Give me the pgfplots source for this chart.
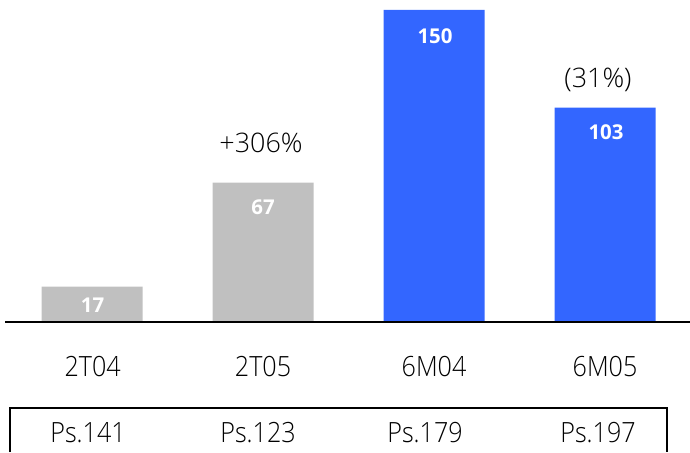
\documentclass[border=0pt]{standalone}
\usepackage{pgfplots}
\pgfplotsset{compat=1.18}
\usepackage{fontspec}
\setmainfont{Open Sans}
\newfontfamily\narrowfont{Open Sans Light}[FakeStretch=0.9]
\newfontfamily\annfont{Open Sans Light}
\definecolor{barblue}{HTML}{3366FF}
\definecolor{bargray}{HTML}{C0C0C0}
\tikzset{lab/.style={anchor=base, inner sep=0pt, font=\narrowfont\fontsize{28}{32}\selectfont, text=black},
  val/.style={anchor=base, inner sep=0pt, text=white, font=\bfseries\fontsize{20.5}{24}\selectfont}}
\begin{document}
\begin{tikzpicture}
\begin{axis}[
  scale only axis, width=690bp, height=452bp,
  hide axis, clip=false,
  xmin=0, xmax=690, ymin=-62.5, ymax=154.8,
  ybar, bar width=101, bar shift=0pt,
]
\addplot[fill=bargray, draw=none] coordinates {(92,17) (263,67)};
\addplot[fill=barblue, draw=none] coordinates {(434,150) (605,103)};
% value labels
\node[val] at (axis cs:92.5,4.8) {17};
\node[val] at (axis cs:263,51.9) {67};
\node[val] at (axis cs:435,134.1) {150};
\node[val] at (axis cs:606,87.5) {103};
% annotations
\node[lab, font=\annfont\fontsize{27}{30}\selectfont] at (axis cs:261,81.25) {+306\%};
\node[lab, font=\annfont\fontsize{27}{30}\selectfont] at (axis cs:598,112.5) {(31\%)};
% baseline
\draw[line width=1.5pt] (axis cs:5,0) -- (axis cs:690,0);
% categories
\node[lab] at (axis cs:92.7,-26.4) {2T04};
\node[lab] at (axis cs:263,-26.4) {2T05};
\node[lab] at (axis cs:434,-26.4) {6M04};
\node[lab] at (axis cs:605,-26.4) {6M05};
% table box
\draw[line width=1.2pt] (axis cs:10,-62.5) -- (axis cs:10,-41.35) -- (axis cs:667,-41.35) -- (axis cs:667,-62.5);
\node[lab] at (axis cs:88,-57.7) {Ps.141};
\node[lab] at (axis cs:258,-57.7) {Ps.123};
\node[lab] at (axis cs:425,-57.7) {Ps.179};
\node[lab] at (axis cs:598,-57.7) {Ps.197};
\coordinate (bl) at (rel axis cs:0,0);
\coordinate (tr) at (rel axis cs:1,1);
\end{axis}
\pgfresetboundingbox
\path[use as bounding box] (bl) rectangle (tr);
\end{tikzpicture}
\end{document}
